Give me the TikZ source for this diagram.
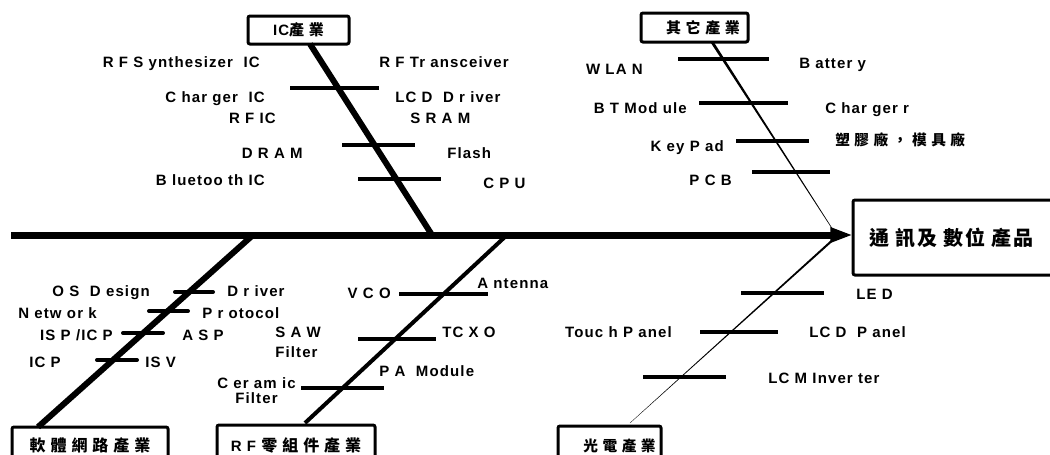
\documentclass[tikz,border=0pt]{standalone}
\usepackage{fontspec}
\setmainfont{Liberation Sans}[LetterSpace=7.5]
\newfontfamily\cjk{Noto Sans CJK TC}[LetterSpace=8]
\usetikzlibrary{arrows.meta,calc}
\colorlet{ink}{black}

\begin{document}
\begin{tikzpicture}[x=0.75pt, y=-0.75pt,
  lab/.style={font=\fontsize{11.25}{13}\selectfont\bfseries, inner sep=0pt, text height=8pt, text depth=0pt},
  labtwo/.style={font=\fontsize{11.25}{15}\selectfont\bfseries, inner sep=0pt},
  box/.style={draw=ink, line width=2.25pt, rounded corners=1.5pt, inner sep=0pt, font=\fontsize{11.25}{13}\selectfont\bfseries},
  rib/.style={draw=ink, line width=3pt},
  bone/.style={draw=ink, line width=4.5pt}]
\useasboundingbox (0,0) rectangle (1050,454);
% spine points
\coordinate (tail) at (11,235);
\coordinate (head) at (853,235);
\coordinate (icFoot) at (310,44);
\coordinate (icHead) at (432,235);
\coordinate (swHead) at (253,235);
\coordinate (swFoot) at (38,427);
\coordinate (rfHead) at (507,235);
\coordinate (rfFoot) at (305,423);
\coordinate (otFoot) at (712,42);
\coordinate (otHead) at (835,233);
\coordinate (opFoot) at (630,423);
\coordinate (opHead) at (836,237);
% bones
\draw[bone] (icFoot) -- (icHead);
\draw[bone] (swHead) -- (swFoot);
\draw[bone, line width=3pt] (rfHead) -- (rfFoot);
\fill[ink] ($(otFoot)+(-1.7,0)$) -- ($(otFoot)+(1.7,0)$) -- ($(otHead)+(0.3,0)$) -- ($(otHead)+(-0.3,0)$) -- cycle;
\fill[ink] ($(opFoot)+(-0.2,0)$) -- ($(opFoot)+(0.2,0)$) -- ($(opHead)+(1.6,0)$) -- ($(opHead)+(-1.6,0)$) -- cycle;
\draw[ink, line width=5.25pt, -{Triangle[length=17pt, width=10.5pt]}] (tail) -- (head);
% ribs
\foreach \y/\a/\b in {88/290/379, 145/342/415, 179/358/441,
    59/678/769, 103/699/788, 141/736/809, 172/752/830,
    294/399/488, 339/358/436, 388/301/384,
    293/741/824, 332/700/778, 377/643/726}
  \draw[rib] (\a,\y) -- (\b,\y);
\foreach \y/\a/\b in {292/175/213, 311/149/188, 333/123/163, 360/97/137}
  \draw[rib, line cap=round] (\a,\y) -- (\b,\y);
% boxes
\node[box, minimum width=75.75pt, minimum height=21pt] (ic) at (298.5,30) {IC{\cjk 產 業}};
\node[box, minimum width=80.25pt, minimum height=21.75pt] (other) at (694.5,27.5) {\hspace*{12.75pt}{\cjk 其 它 產 業}};
\node[box, minimum width=117pt, minimum height=27pt] (soft) at (90,445) {{\cjk\fontsize{12}{14}\selectfont 軟 體 網 路 產 業}};
\node[box, minimum width=118.5pt, minimum height=30pt] (rfpart) at (296,445) {R F {\cjk\fontsize{12}{14}\selectfont 零 組 件 產 業}};
\node[box, minimum width=77.25pt, minimum height=30pt] (opto) at (609.5,446) {\hspace*{15pt}{\cjk\fontsize{11}{13}\selectfont 光 電 產 業}};
\node[box, minimum width=155.25pt, minimum height=56.25pt] (product) at (956.5,237.5) {\raisebox{-5.6pt}{\cjk\fontsize{15}{18}\selectfont 通 訊及 數位 產品}\hspace*{7.5pt}};
% IC labels
\node[lab, anchor=east] (rfsyn) at (260,62) {R F S ynthesizer\ \ IC};
\node[lab, anchor=east] (chgic) at (265,97) {C har ger\ \ IC};
\node[lab, anchor=east] (rfic) at (276,118) {R F IC};
\node[lab, anchor=east] (dram) at (303,153) {D R A M};
\node[lab, anchor=east] (btic) at (265,180) {B luetoo th IC};
\node[lab, anchor=west] (rftrx) at (379,62) {R F Tr ansceiver};
\node[lab, anchor=west] (lcddrv) at (395,97) {LC D\ \ D r iver};
\node[lab, anchor=west] (sram) at (410,118) {S R A M};
\node[lab, anchor=west] (flash) at (447,153) {Flash};
\node[lab, anchor=west] (cpu) at (483,183) {C P U};
% other labels
\node[lab, anchor=east] (wlan) at (643,69) {W LA N};
\node[lab, anchor=east] (btmod) at (687,108) {B T Mod ule};
\node[lab, anchor=east] (keypad) at (724,146) {K ey P ad};
\node[lab, anchor=east] (pcb) at (732,180) {P C B};
\node[lab, anchor=west] (battery) at (799,63) {B atter y};
\node[lab, anchor=west] (charger) at (825,108) {C har ger r};
\node[lab, anchor=west] (mould) at (835,140) {{\cjk\fontsize{11}{13}\selectfont 塑 膠 廠 ， 模 具 廠}};
% software labels
\node[lab, anchor=east] (osdes) at (150,291) {O S\ \ D esign};
\node[lab, anchor=east] (network) at (97,313) {N etw or k};
\node[lab, anchor=east] (ispicp) at (113,335) {IS P /IC P};
\node[lab, anchor=east] (icp) at (61,362) {IC P};
\node[lab, anchor=west] (driver) at (227,291) {D r iver};
\node[lab, anchor=west] (protocol) at (202,313) {P r otocol};
\node[lab, anchor=west] (asp) at (182,335) {A S P};
\node[lab, anchor=west] (isv) at (145,362) {IS V};
% RF labels
\node[lab, anchor=east] (vco) at (391,293) {V C O};
\node[lab, anchor=west] (antenna) at (477,283) {A ntenna};
\node[labtwo, align=left, anchor=north west] (saw) at (275,327) {S A W\\Filter};
\node[lab, anchor=west] (tcxo) at (442,332) {TC X O};
\node[lab, anchor=west] (pamod) at (379,371) {P A\ \ Module};
\node[labtwo, font=\fontsize{11.25}{11.25}\selectfont\bfseries, align=center, anchor=north east] (ceramic) at (296,377) {C er am ic\\Filter};
% opto labels
\node[lab, anchor=west] (led) at (856,294) {LE D};
\node[lab, anchor=east] (touch) at (672,332) {Touc h P anel};
\node[lab, anchor=west] (lcdpanel) at (809,332) {LC D\ \ P anel};
\node[lab, anchor=west] (lcminv) at (768,378) {LC M Inver ter};
\end{tikzpicture}
\end{document}
